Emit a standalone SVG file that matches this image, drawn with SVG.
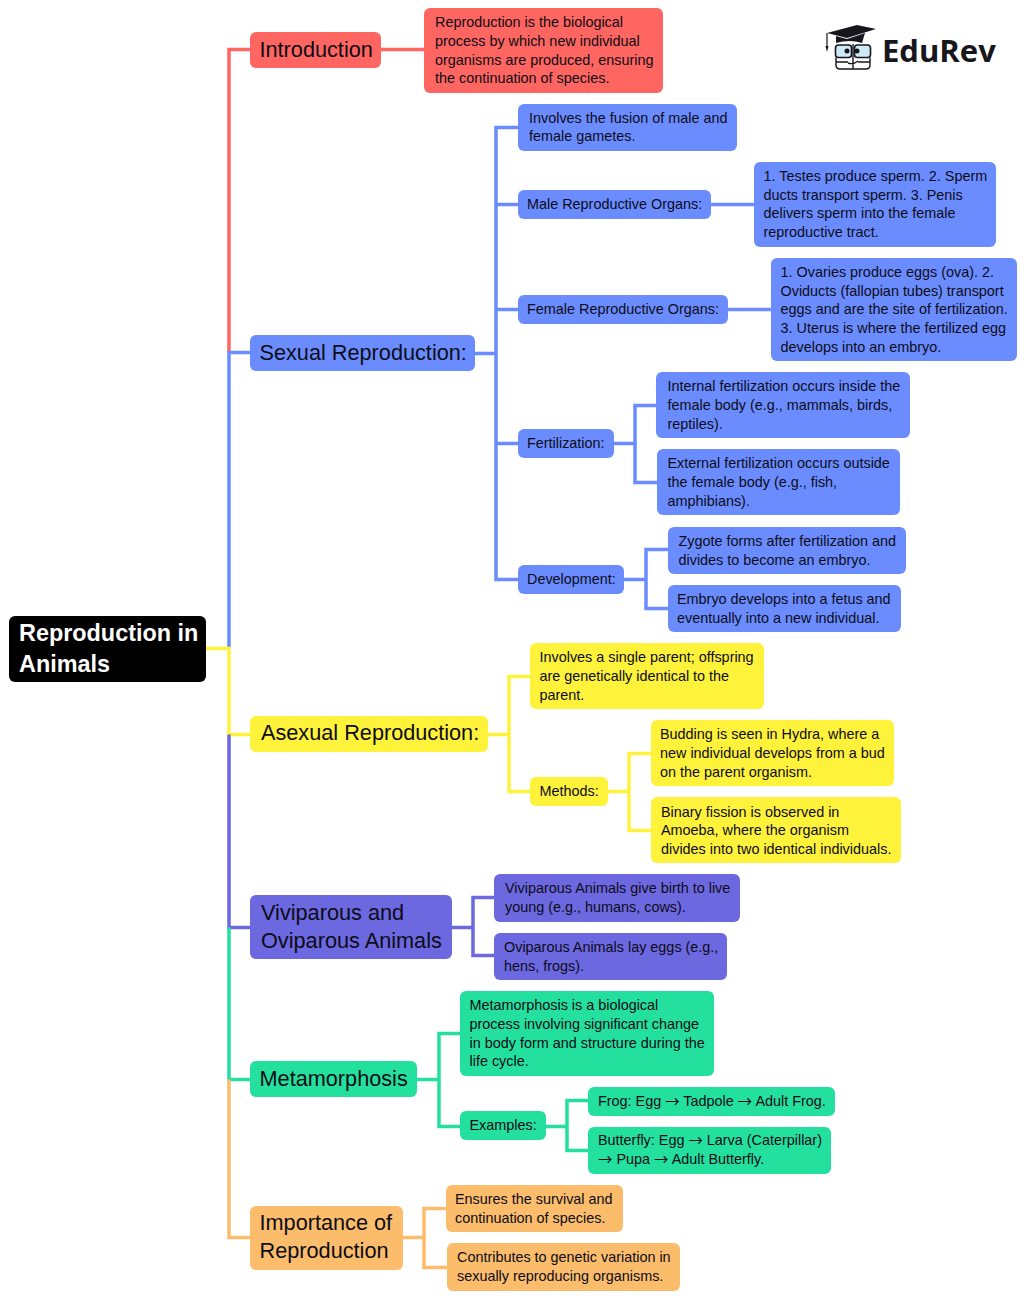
<svg xmlns="http://www.w3.org/2000/svg" width="1024" height="1298" viewBox="0 0 1024 1298">
<style>
text{font-family:"Liberation Sans",Arial,sans-serif;fill:#0c0c16}
.s{font-size:14.4px}.m{font-size:21.7px}
.a{font-family:"Noto Sans CJK SC",sans-serif}
.root text{font-size:23.4px;font-weight:bold;fill:#fff}
#connectors path{fill:none;stroke-width:3.5}
.red{fill:#ff6661}.blue{fill:#6b8cff}.yel{fill:#fff23b}.pur{fill:#6c68e0}.grn{fill:#24e09e}.org{fill:#fbbd6c}
.cr{stroke:#ff6661}.cb{stroke:#6b8cff}.cy{stroke:#fff23b}.cp{stroke:#6c68e0}.cg{stroke:#24e09e}.co{stroke:#fbbd6c}
</style>
<rect width="1024" height="1298" fill="#fff"/>
<g id="connectors" transform="translate(0 0.500)">
<path class="cr" d="M250 49H229V352"/>
<path class="cr" d="M381 49H424"/>
<path class="cb" d="M229 648V352H250"/>
<path class="cb" d="M475 353H496M518 127H496V579H518M496 204H518M496 309H518M496 443H518"/>
<path class="cb" d="M711 204H754M728 309H771"/>
<path class="cb" d="M614 443H635M656 405H635V482H657"/>
<path class="cb" d="M624 579H646M668 549H646V608H668"/>
<path class="cy" d="M206 648H229V734H250"/>
<path class="cy" d="M488 734H509M530 676H509V791H530"/>
<path class="cy" d="M608 791H629M651 753H629V830H651"/>
<path class="cp" d="M229 734V927H250"/>
<path class="cp" d="M452 927H473M494 897H473V955H494"/>
<path class="cg" d="M229 927V1079H250"/>
<path class="cg" d="M417 1079H439M460 1033H439V1126H460"/>
<path class="cg" d="M546 1126H567M588 1100H567V1150H588"/>
<path class="co" d="M229 1079V1237H250"/>
<path class="co" d="M403 1237H424M446 1208H424V1267H447"/>
</g>
<g id="root" class="root"><rect x="9" y="616" width="197" height="66" rx="6" fill="#000"/><text x="19" y="641">Reproduction in</text><text x="19" y="672">Animals</text></g>
<g id="introduction"><rect class="red" x="250" y="32" width="131" height="36" rx="6"/><text class="m" x="259.500" y="57">Introduction</text></g>
<g id="intro-text"><rect class="red" x="424" y="8" width="239" height="85" rx="6"/><text class="s" x="435" y="27">Reproduction is the biological</text><text class="s" x="435" y="46">process by which new individual</text><text class="s" x="435" y="65">organisms are produced, ensuring</text><text class="s" x="435" y="83">the continuation of species.</text></g>
<g id="sexual"><rect class="blue" x="250" y="335" width="225" height="36" rx="6"/><text class="m" x="259.500" y="360">Sexual Reproduction:</text></g>
<g id="fusion"><rect class="blue" x="518" y="104" width="219" height="47" rx="6"/><text class="s" x="529" y="123">Involves the fusion of male and</text><text class="s" x="529" y="141">female gametes.</text></g>
<g id="male"><rect class="blue" x="518" y="190" width="193" height="29" rx="6"/><text class="s" x="527" y="209">Male Reproductive Organs:</text></g>
<g id="male-text"><rect class="blue" x="754" y="162" width="242" height="85" rx="6"/><text class="s" x="763.500" y="181">1. Testes produce sperm. 2. Sperm</text><text class="s" x="763.500" y="200">ducts transport sperm. 3. Penis</text><text class="s" x="763.500" y="218">delivers sperm into the female</text><text class="s" x="763.500" y="237">reproductive tract.</text></g>
<g id="female"><rect class="blue" x="518" y="295" width="210" height="29" rx="6"/><text class="s" x="527" y="314">Female Reproductive Organs:</text></g>
<g id="female-text"><rect class="blue" x="771" y="258" width="246" height="103" rx="6"/><text class="s" x="780.500" y="277">1. Ovaries produce eggs (ova). 2.</text><text class="s" x="780.500" y="296">Oviducts (fallopian tubes) transport</text><text class="s" x="780.500" y="314">eggs and are the site of fertilization.</text><text class="s" x="780.500" y="333">3. Uterus is where the fertilized egg</text><text class="s" x="780.500" y="352">develops into an embryo.</text></g>
<g id="fertilization"><rect class="blue" x="518" y="429" width="96" height="29" rx="6"/><text class="s" x="527" y="448">Fertilization:</text></g>
<g id="internal"><rect class="blue" x="656" y="372" width="254" height="66" rx="6"/><text class="s" x="667.500" y="391">Internal fertilization occurs inside the</text><text class="s" x="667.500" y="410">female body (e.g., mammals, birds,</text><text class="s" x="667.500" y="429">reptiles).</text></g>
<g id="external"><rect class="blue" x="657" y="449" width="243" height="66" rx="6"/><text class="s" x="667.500" y="468">External fertilization occurs outside</text><text class="s" x="667.500" y="487">the female body (e.g., fish,</text><text class="s" x="667.500" y="506">amphibians).</text></g>
<g id="development"><rect class="blue" x="518" y="565" width="106" height="29" rx="6"/><text class="s" x="527" y="584">Development:</text></g>
<g id="zygote"><rect class="blue" x="668" y="527" width="238" height="47" rx="6"/><text class="s" x="678.500" y="546">Zygote forms after fertilization and</text><text class="s" x="678.500" y="565">divides to become an embryo.</text></g>
<g id="embryo"><rect class="blue" x="668" y="585" width="233" height="47" rx="6"/><text class="s" x="677" y="604">Embryo develops into a fetus and</text><text class="s" x="677" y="623">eventually into a new individual.</text></g>
<g id="asexual"><rect class="yel" x="250" y="716" width="238" height="36" rx="6"/><text class="m" x="261" y="740">Asexual Reproduction:</text></g>
<g id="single"><rect class="yel" x="530" y="643" width="234" height="66" rx="6"/><text class="s" x="539.500" y="662">Involves a single parent; offspring</text><text class="s" x="539.500" y="681">are genetically identical to the</text><text class="s" x="539.500" y="700">parent.</text></g>
<g id="methods"><rect class="yel" x="530" y="777" width="78" height="29" rx="6"/><text class="s" x="539.500" y="796">Methods:</text></g>
<g id="budding"><rect class="yel" x="651" y="720" width="243" height="66" rx="6"/><text class="s" x="660" y="739">Budding is seen in Hydra, where a</text><text class="s" x="660" y="758">new individual develops from a bud</text><text class="s" x="660" y="777">on the parent organism.</text></g>
<g id="binary"><rect class="yel" x="651" y="797" width="250" height="66" rx="6"/><text class="s" x="661" y="817">Binary fission is observed in</text><text class="s" x="661" y="835">Amoeba, where the organism</text><text class="s" x="661" y="854">divides into two identical individuals.</text></g>
<g id="viviparous-oviparous"><rect class="pur" x="250" y="895" width="202" height="64" rx="6"/><text class="m" x="261" y="920">Viviparous and</text><text class="m" x="261" y="948">Oviparous Animals</text></g>
<g id="viviparous"><rect class="pur" x="494" y="874" width="246" height="48" rx="6"/><text class="s" x="505" y="893">Viviparous Animals give birth to live</text><text class="s" x="505" y="912">young (e.g., humans, cows).</text></g>
<g id="oviparous"><rect class="pur" x="494" y="933" width="233" height="47" rx="6"/><text class="s" x="504" y="952">Oviparous Animals lay eggs (e.g.,</text><text class="s" x="504" y="971">hens, frogs).</text></g>
<g id="metamorphosis"><rect class="grn" x="250" y="1061" width="167" height="36" rx="6"/><text class="m" x="259.500" y="1086">Metamorphosis</text></g>
<g id="meta-text"><rect class="grn" x="460" y="991" width="254" height="85" rx="6"/><text class="s" x="469.500" y="1010">Metamorphosis is a biological</text><text class="s" x="469.500" y="1029">process involving significant change</text><text class="s" x="469.500" y="1048">in body form and structure during the</text><text class="s" x="469.500" y="1066">life cycle.</text></g>
<g id="examples"><rect class="grn" x="460" y="1111" width="86" height="29" rx="6"/><text class="s" x="469.500" y="1130">Examples:</text></g>
<g id="frog"><rect class="grn" x="588" y="1087" width="247" height="29" rx="6"/><text class="s" x="598" y="1106">Frog: Egg <tspan class="a" dy="1">→</tspan><tspan dy="-1"> Tadpole </tspan><tspan class="a" dy="1">→</tspan><tspan dy="-1"> Adult Frog.</tspan></text></g>
<g id="butterfly"><rect class="grn" x="588" y="1127" width="243" height="47" rx="6"/><text class="s" x="598" y="1145">Butterfly: Egg <tspan class="a" dy="1">→</tspan><tspan dy="-1"> Larva (Caterpillar)</tspan></text><text class="s" x="598" y="1164"><tspan class="a" dy="1">→</tspan><tspan dy="-1"> Pupa </tspan><tspan class="a" dy="1">→</tspan><tspan dy="-1"> Adult Butterfly.</tspan></text></g>
<g id="importance"><rect class="org" x="250" y="1206" width="153" height="64" rx="6"/><text class="m" x="259.500" y="1230">Importance of</text><text class="m" x="259.500" y="1258">Reproduction</text></g>
<g id="survival"><rect class="org" x="446" y="1185" width="177" height="47" rx="6"/><text class="s" x="455" y="1204">Ensures the survival and</text><text class="s" x="455" y="1223">continuation of species.</text></g>
<g id="variation"><rect class="org" x="447" y="1243" width="233" height="48" rx="6"/><text class="s" x="457" y="1262">Contributes to genetic variation in</text><text class="s" x="457" y="1281">sexually reproducing organisms.</text></g>
<g id="logo">
<path d="M827 33L857 25L876 29L847 38Z" fill="#16161c"/>
<path d="M836 36V43Q850 39 862 43L865 33L847 39Z" fill="#16161c"/>
<path d="M827 33V46" stroke="#16161c" stroke-width="1.200" fill="none"/><path d="M825.500 46H828.500L827 52Z" fill="#16161c"/>
<rect x="835.500" y="45" width="16" height="12.500" rx="3" fill="#cfeaf7" stroke="#16161c" stroke-width="1.600"/>
<rect x="854.500" y="45" width="16" height="12.500" rx="3" fill="#cfeaf7" stroke="#16161c" stroke-width="1.600"/>
<path d="M853 44V69M836 57.500V65Q836 69 840 69H866Q870 69 870 65V57.500M836 62H848M858 62H870M848 63Q853 65 858 61" fill="none" stroke="#16161c" stroke-width="1.400"/>
<circle cx="847" cy="51" r="2.500" fill="#16161c"/><circle cx="857" cy="51" r="2.500" fill="#16161c"/>
<text x="882" y="62" style="font-family:'Open Sans',sans-serif;font-size:31px;font-weight:700;fill:#16161c">EduRev</text>
</g>
</svg>
